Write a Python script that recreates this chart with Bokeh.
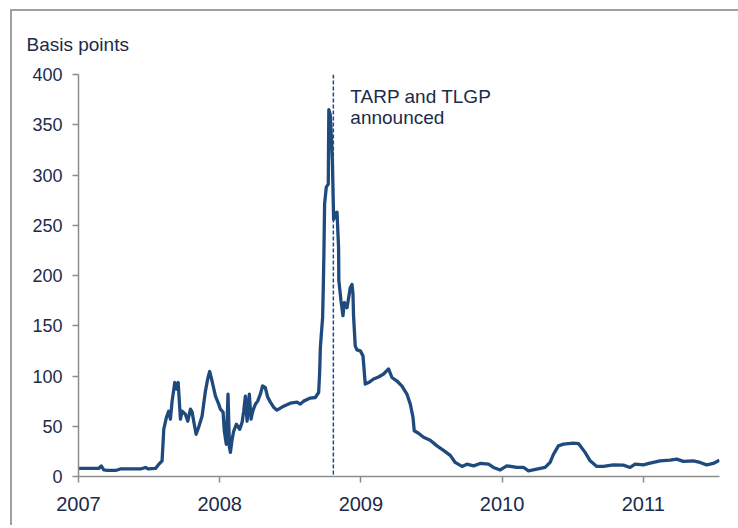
from bokeh.plotting import figure
from bokeh.layouts import column
from bokeh.models import Range1d, FixedTicker, Span, Label, GlobalInlineStyleSheet
from bokeh.embed import file_html
from bokeh.resources import INLINE

# Decimal-year positions and spread values (basis points)
years = [2007.000, 2007.142, 2007.161, 2007.179, 2007.205, 2007.262, 2007.297, 2007.439,
         2007.474, 2007.495, 2007.545, 2007.568, 2007.592, 2007.604, 2007.623, 2007.639,
         2007.651, 2007.663, 2007.682, 2007.694, 2007.706, 2007.722, 2007.734, 2007.757,
         2007.774, 2007.793, 2007.805, 2007.816, 2007.833, 2007.851, 2007.875, 2007.899,
         2007.915, 2007.929, 2007.946, 2007.970, 2007.993, 2008.005, 2008.024, 2008.033,
         2008.047, 2008.059, 2008.069, 2008.076, 2008.088, 2008.099, 2008.118, 2008.142,
         2008.159, 2008.170, 2008.182, 2008.194, 2008.210, 2008.222, 2008.234, 2008.253,
         2008.269, 2008.288, 2008.304, 2008.323, 2008.340, 2008.359, 2008.382, 2008.406,
         2008.453, 2008.500, 2008.548, 2008.571, 2008.595, 2008.642, 2008.677, 2008.701,
         2008.708, 2008.713, 2008.718, 2008.729, 2008.734, 2008.738, 2008.743, 2008.755,
         2008.769, 2008.773, 2008.783, 2008.791, 2008.798, 2008.807, 2008.819, 2008.831,
         2008.842, 2008.844, 2008.859, 2008.873, 2008.883, 2008.902, 2008.925, 2008.937,
         2008.944, 2008.948, 2008.960, 2008.972, 2008.996, 2009.015, 2009.031, 2009.055,
         2009.090, 2009.125, 2009.161, 2009.196, 2009.220, 2009.256, 2009.291, 2009.326,
         2009.350, 2009.369, 2009.378, 2009.408, 2009.444, 2009.491, 2009.539, 2009.585,
         2009.633, 2009.668, 2009.716, 2009.751, 2009.798, 2009.845, 2009.904, 2009.939,
         2009.987, 2010.034, 2010.105, 2010.152, 2010.187, 2010.246, 2010.305, 2010.340,
         2010.364, 2010.399, 2010.435, 2010.505, 2010.541, 2010.588, 2010.624, 2010.671,
         2010.718, 2010.788, 2010.859, 2010.907, 2010.942, 2011.001, 2011.048, 2011.119,
         2011.190, 2011.237, 2011.284, 2011.355, 2011.402, 2011.449, 2011.496, 2011.532,
         2011.540]
spread_bp = [8, 8, 10.5, 6.5, 6, 6, 7.5, 7.5,
             9, 7.5, 8, 12, 15.6, 47, 59, 65,
             57, 75, 93.5, 87, 93.5, 57, 65, 62,
             55, 67, 64, 55, 42, 49, 60, 85,
             97, 104.5, 95, 80, 72, 67, 64, 45,
             32, 82, 29, 24, 37, 45, 52, 47,
             54, 65, 80, 55, 82, 57, 65, 72,
             75, 82, 90, 88.5, 79, 74, 69, 66,
             70, 73, 74, 72, 75, 78, 78.6, 83.6,
             103.5, 128, 138, 158, 190, 220, 271, 288,
             291, 365, 360, 337, 314, 256, 262, 263,
             228, 195, 175, 160, 173, 168, 188, 191,
             182, 160, 130, 126, 125, 120, 92, 93.5,
             97, 99, 102, 107, 98.5, 95, 90, 82,
             72, 59, 45.5, 43, 39, 36, 30.5, 26,
             21, 14, 10, 12.3, 10.6, 13, 12.3, 9,
             6.5, 10.6, 9, 9, 5.7, 7.3, 9, 14,
             22, 30.5, 32.2, 33.2, 32.8, 24, 15.6, 10,
             10, 11.6, 11.3, 9, 12.3, 11.6, 13.3, 15.6,
             16.3, 17.3, 15, 15.6, 14, 11.6, 13, 15.6,
             16.3]

x_ticks = [2007, 2008, 2009, 2010, 2011]
y_ticks = [0, 50, 100, 150, 200, 250, 300, 350, 400]
event_year = 2008.805
event_text = ["TARP and TLGP", "announced"]
unit_text = "Basis points"

NAVY = "#1f4a7e"
TEXT = "#1c2b4a"
AXIS = "#8c8c8c"
FONT = "Liberation Sans"

p = figure(width=726, height=514,
           x_range=Range1d(2007, 2011.54), y_range=Range1d(0, 400),
           output_backend="svg", toolbar_location=None,
           min_border_left=66, min_border_top=63, min_border_right=19,
           min_border_bottom=49)
p.outline_line_color = None
p.grid.visible = False

p.title.text = unit_text
p.title.align = "left"
p.title.offset = -52
p.title.standoff = 39
p.title.text_font = FONT
p.title.text_font_size = "19px"
p.title.text_font_style = "normal"
p.title.text_color = TEXT

p.line(years, spread_bp, line_color=NAVY, line_width=3.3, line_join="round")

p.add_layout(Span(location=event_year, dimension="height", line_color=NAVY,
                  line_width=1.5, line_dash="4 2"))

for i, t in enumerate(event_text):
    p.add_layout(Label(x=event_year, y=378 - i * 21, x_offset=17, text=t,
                       text_font=FONT, text_font_size="19px", text_color=TEXT,
                       text_baseline="middle"))

for ax in (p.xaxis, p.yaxis):
    ax.axis_line_color = AXIS
    ax.axis_line_width = 1.5
    ax.major_tick_line_color = AXIS
    ax.major_tick_line_width = 1.5
    ax.major_tick_in = 0
    ax.major_tick_out = 6
    ax.minor_tick_line_color = None
    ax.major_label_text_font = FONT
    ax.major_label_text_color = TEXT

p.xaxis.ticker = FixedTicker(ticks=x_ticks)
p.yaxis.ticker = FixedTicker(ticks=y_ticks)
p.xaxis.major_label_text_font_size = "20px"
p.yaxis.major_label_text_font_size = "18px"
p.xaxis.major_label_standoff = 14
p.yaxis.major_label_standoff = 10

page_css = GlobalInlineStyleSheet(css="html, body { overflow: hidden; }")
page = column(p, stylesheets=[page_css],
              styles={"border-top": "2px solid #a0a0a0",
                      "border-left": "2px solid #a0a0a0",
                      "margin-left": "10px", "margin-top": "9px"})

open("out.html", "w").write(file_html(page, INLINE))
